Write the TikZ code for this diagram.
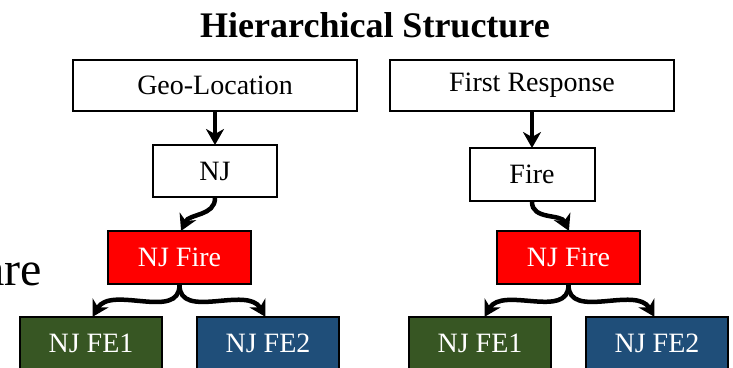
\documentclass[tikz,border=0pt]{standalone}
\usepackage{fontspec}
\setmainfont{Liberation Serif}
\usetikzlibrary{arrows.meta}
\definecolor{fegreen}{HTML}{375623}
\definecolor{feblue}{HTML}{1F4E79}
\definecolor{firered}{HTML}{FF0000}
\tikzset{
  box/.style={draw=black, line width=2pt, inner sep=0pt, font=\fontsize{28}{30}\selectfont},
  whitebox/.style={box, fill=white, text=black},
  redbox/.style={box, fill=firered, text=white},
  greenbox/.style={box, fill=fegreen, text=white},
  bluebox/.style={box, fill=feblue, text=white},
  conn/.style={line width=4.5pt, -{Stealth[length=16pt,width=18pt,inset=5pt]}, shorten >=-1pt},
}
\begin{document}
\begin{tikzpicture}[x=1pt,y=-1pt]
\useasboundingbox (0,0) rectangle (733,367);
\node[font=\fontsize{36}{40}\selectfont\bfseries, anchor=base] (title) at (375,37) {Hierarchical Structure};
\node[font=\fontsize{48}{52}\selectfont, anchor=base east, inner sep=0pt] (frag) at (42,285) {are};
% left tree
\node[whitebox, minimum width=284pt, minimum height=51pt] (geo) at (215,85.5) {Geo-Location};
\node[whitebox, minimum width=124pt, minimum height=52pt] (nj) at (215,171) {NJ};
\node[redbox, minimum width=143pt, minimum height=53pt] (njfL) at (179.5,257.5) {NJ Fire};
\node[greenbox, minimum width=142pt, minimum height=53pt] (fe1L) at (91,343.5) {NJ FE1};
\node[bluebox, minimum width=142pt, minimum height=53pt] (fe2L) at (268,343.5) {NJ FE2};
% right tree
\node[whitebox, minimum width=284pt, minimum height=51pt] (fr) at (532,85.5) {First Response};
\node[whitebox, minimum width=125pt, minimum height=53pt] (fire) at (532,174.5) {Fire};
\node[redbox, minimum width=143pt, minimum height=53pt] (njfR) at (568.5,257.5) {NJ Fire};
\node[greenbox, minimum width=142pt, minimum height=53pt] (fe1R) at (480,343.5) {NJ FE1};
\node[bluebox, minimum width=142pt, minimum height=53pt] (fe2R) at (657,343.5) {NJ FE2};
% connectors
\draw[conn] (geo.south) -- (nj.north);
\draw[conn] (nj.south) to[out=-90,in=65] ([xshift=2pt]njfL.north);
\draw[conn] (njfL.south) to[out=-90,in=60] ([xshift=2pt]fe1L.north);
\draw[conn] (njfL.south) to[out=-90,in=120] ([xshift=-3pt]fe2L.north);
\draw[conn] (fr.south) -- (fire.north);
\draw[conn] (fire.south) to[out=-90,in=115] (njfR.north);
\draw[conn] (njfR.south) to[out=-90,in=60] ([xshift=5pt]fe1R.north);
\draw[conn] (njfR.south) to[out=-90,in=120] ([xshift=-3pt]fe2R.north);
\end{tikzpicture}
\end{document}
